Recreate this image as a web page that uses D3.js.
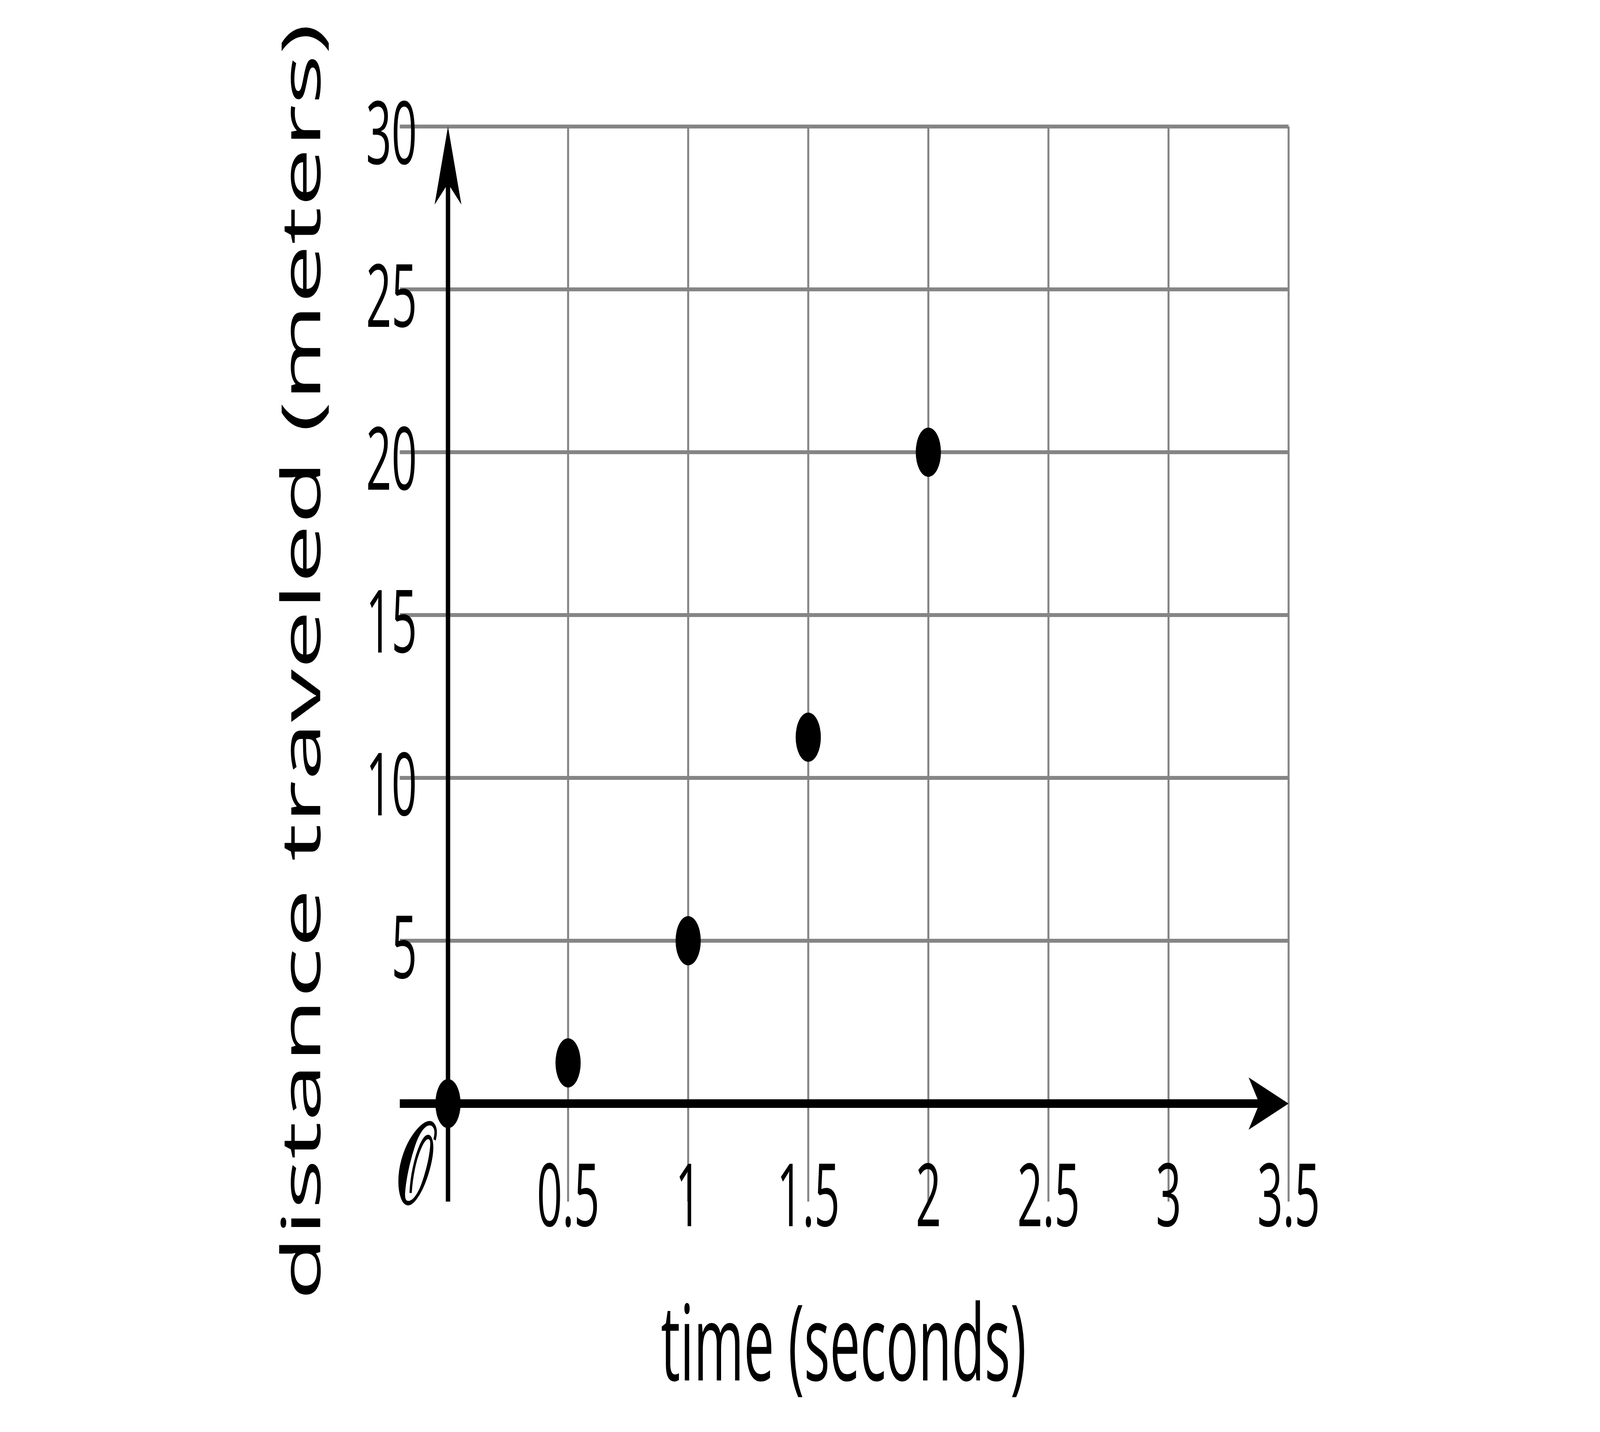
<!DOCTYPE html>
<html>
<head>
<meta charset="utf-8">
<script src="https://cdn.jsdelivr.net/npm/d3@7"></script>
<style>
  html, body { margin: 0; padding: 0; overflow: hidden; background: #fff; }
  #chart { display: block; width: 100vw; height: 100vh; }
  text { font-family: "Open Sans", sans-serif; fill: #000; }
</style>
</head>
<body>
<!-- drawn in 8000x3667 units, stretched to whatever window it gets -->
<svg id="chart" viewBox="0 0 8000 3667" preserveAspectRatio="none"></svg>
<script>
// data (distance = 5 t^2)
var times = [0, 0.5, 1, 1.5, 2];
var distances = [0, 1.25, 5, 11.25, 20];
var xTicks = [0.5, 1, 1.5, 2, 2.5, 3, 3.5];
var yTicks = [5, 10, 15, 20, 25, 30];
var xTitle = "time (seconds)";
var yTitle = "distance traveled (meters)";
var originLabel = "\u{1D4AA}";

var svg = d3.select("#chart");
svg.append("rect").attr("width", 8000).attr("height", 3667).attr("fill", "#fff");

var x = d3.scaleLinear().domain([0, 3.5]).range([2240, 6443]);
var y = d3.scaleLinear().domain([0, 30]).range([2826, 324]);

// grid stretches a bit past the axes on the left and bottom
var gridLeft = x(0) - 241;
var gridBottom = y(0) + 251;

var grid = svg.append("g").attr("stroke", "#858585").attr("stroke-width", 10);
grid.selectAll("line.h")
  .data(yTicks)
  .enter()
  .append("line")
  .attr("x1", gridLeft)
  .attr("x2", x(3.5))
  .attr("y1", d => y(d))
  .attr("y2", d => y(d));
grid.selectAll("line.v")
  .data(xTicks)
  .enter()
  .append("line")
  .attr("x1", d => x(d))
  .attr("x2", d => x(d))
  .attr("y1", y(30))
  .attr("y2", gridBottom);

// axes with arrow heads
var headLen = 200, notch = 146, headHalf = 67;
var axes = svg.append("g");
axes.append("line")
  .attr("x1", gridLeft).attr("x2", x(3.5) - notch + 4)
  .attr("y1", y(0)).attr("y2", y(0))
  .attr("stroke", "#000").attr("stroke-width", 22);
axes.append("line")
  .attr("x1", x(0)).attr("x2", x(0))
  .attr("y1", gridBottom).attr("y2", y(30) + notch - 4)
  .attr("stroke", "#000").attr("stroke-width", 22);

var tipX = x(3.5), tipY = y(0);
axes.append("path")
  .attr("fill", "#000")
  .attr("d", "M" + tipX + "," + tipY +
    "L" + (tipX - headLen) + "," + (tipY - headHalf) +
    "L" + (tipX - notch) + "," + tipY +
    "L" + (tipX - headLen) + "," + (tipY + headHalf) + "Z");
var topX = x(0), topY = y(30);
axes.append("path")
  .attr("fill", "#000")
  .attr("d", "M" + topX + "," + topY +
    "L" + (topX - headHalf) + "," + (topY + headLen) +
    "L" + topX + "," + (topY + notch) +
    "L" + (topX + headHalf) + "," + (topY + headLen) + "Z");

// tick labels through d3 axes (no domain, no tick marks)
var xAxis = d3.axisBottom(x).tickValues(xTicks).tickSize(0).tickPadding(156)
  .tickFormat(d3.format("~g"));
var yAxis = d3.axisLeft(y).tickValues(yTicks).tickSize(0).tickPadding(155)
  .tickFormat(d3.format("~g"));

svg.append("g")
  .attr("transform", "translate(0," + y(0) + ")")
  .call(xAxis)
  .call(g => g.select(".domain").remove())
  .selectAll("text")
  .attr("font-family", "Open Sans")
  .attr("font-size", 223)
  .attr("fill", "#000");

svg.append("g")
  .attr("transform", "translate(" + x(0) + ",0)")
  .call(yAxis)
  .call(g => g.select(".domain").remove())
  .selectAll("text")
  .attr("font-family", "Open Sans")
  .attr("font-size", 223)
  .attr("dy", "0.43em")
  .attr("fill", "#000");

// script O at the origin (a light stroke gives it the weight of the original)
svg.append("text")
  .attr("x", x(0) - 168)
  .attr("y", y(0) + 254)
  .attr("text-anchor", "middle")
  .style("font-family", "'DejaVu Serif', 'DejaVu Sans', serif")
  .attr("font-size", 292)
  .attr("stroke", "#000")
  .attr("stroke-width", 7)
  .text(originLabel);

// points
svg.append("g")
  .selectAll("circle")
  .data(times)
  .enter()
  .append("circle")
  .attr("cx", d => x(d))
  .attr("cy", (d, i) => y(distances[i]))
  .attr("r", 63)
  .attr("fill", "#000");

// axis titles
svg.append("text")
  .attr("x", 4218)
  .attr("y", 3535)
  .attr("text-anchor", "middle")
  .attr("font-size", 270)
  .text(xTitle);

svg.append("text")
  .attr("transform", "translate(1601,1695) rotate(-90)")
  .attr("text-anchor", "middle")
  .attr("font-size", 270)
  .text(yTitle);
</script>
</body>
</html>
